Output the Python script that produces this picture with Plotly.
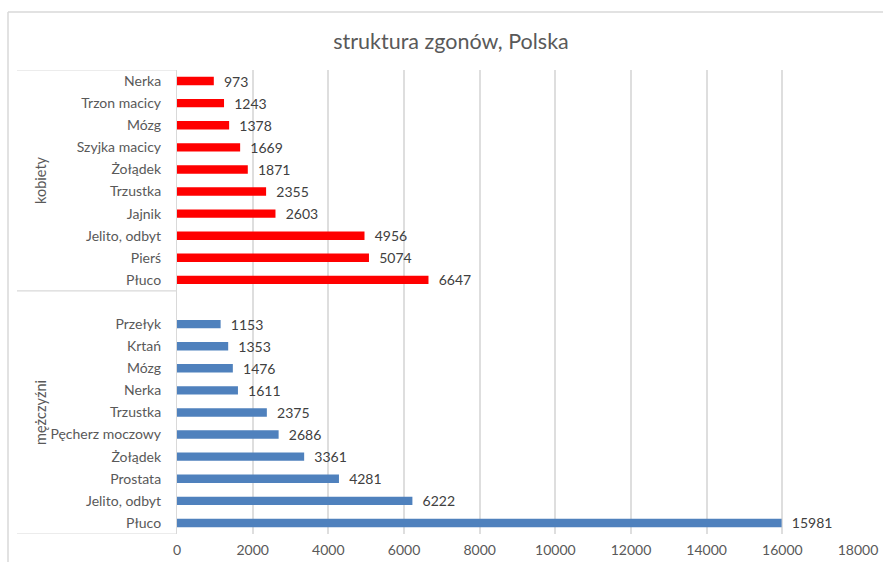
import plotly.graph_objects as go

women_labels = ["Nerka", "Trzon macicy", "Mózg", "Szyjka macicy", "Żołądek",
                "Trzustka", "Jajnik", "Jelito, odbyt", "Pierś", "Płuco"]
women_values = [973, 1243, 1378, 1669, 1871, 2355, 2603, 4956, 5074, 6647]

men_labels = ["Przełyk", "Krtań", "Mózg", "Nerka", "Trzustka", "Pęcherz moczowy",
              "Żołądek", "Prostata", "Jelito, odbyt", "Płuco"]
men_values = [1153, 1353, 1476, 1611, 2375, 2686, 3361, 4281, 6222, 15981]

group_names = ["kobiety", "mężczyźni"]
title_text = "struktura zgonów, Polska"

FONT = "Lato"
GRAY = "#595959"
LINE = "#d9d9d9"

# slot positions: women 0..9, blank slot 10, men 11..20
w_pos = list(range(len(women_labels)))
m_pos = [len(women_labels) + 1 + i for i in range(len(men_labels))]
n_slots = len(women_labels) + 1 + len(men_labels)

fig = go.Figure()
for pos, vals, col in [(w_pos, women_values, "#FF0000"), (m_pos, men_values, "#4F81BD")]:
    fig.add_trace(go.Bar(
        y=pos, x=vals, orientation="h", width=0.38,
        marker=dict(color=col, line=dict(width=0)),
        text=[str(v) for v in vals], texttemplate="  %{text}", textposition="outside",
        constraintext="none",
        textfont=dict(family=FONT, size=14, color="#404040"), cliponaxis=False,
        showlegend=False, hoverinfo="skip"))

L, R, T, B = 177, 25, 70, 28
PW = 883 - L - R
PH = 562 - T - B
def px_to_paper_x(px):
    return (px - L) / PW
def px_to_paper_y(py):
    return (562 - B - py) / PH

shapes = []
# outer chart border (top + left)
shapes.append(dict(type="line", xref="paper", yref="paper",
                   x0=px_to_paper_x(8), x1=px_to_paper_x(900),
                   y0=px_to_paper_y(12), y1=px_to_paper_y(12),
                   line=dict(color=LINE, width=1.5)))
shapes.append(dict(type="line", xref="paper", yref="paper",
                   x0=px_to_paper_x(8), x1=px_to_paper_x(8),
                   y0=px_to_paper_y(12), y1=px_to_paper_y(600),
                   line=dict(color=LINE, width=1.5)))
# group boundaries in label area
for yb in [-0.5, len(women_labels) - 0.5, n_slots - 0.5]:
    shapes.append(dict(type="line", xref="paper", yref="y",
                       x0=px_to_paper_x(17), x1=0, y0=yb, y1=yb,
                       line=dict(color=LINE, width=1.2)))

annotations = [
    dict(text=group_names[0], xref="paper", yref="y", x=px_to_paper_x(30),
         y=(len(women_labels) - 1) / 2, textangle=-90, showarrow=False,
         font=dict(family=FONT, size=14.5, color=GRAY)),
    dict(text=group_names[1], xref="paper", yref="y", x=px_to_paper_x(30),
         y=(len(women_labels) + n_slots - 1) / 2, textangle=-90, showarrow=False,
         font=dict(family=FONT, size=14.5, color=GRAY)),
]

fig.update_layout(
    width=883, height=562,
    margin=dict(l=L, r=R, t=T, b=B, autoexpand=False),
    paper_bgcolor="white", plot_bgcolor="white",
    title=dict(text=title_text, x=451 / 883, xanchor="center", xref="container",
               y=1 - 41 / 562, yanchor="middle", yref="container",
               font=dict(family=FONT, size=21.5, color=GRAY)),
    shapes=shapes, annotations=annotations,
    font=dict(family=FONT, color=GRAY, size=14),
)
fig.update_xaxes(range=[0, 18000], dtick=2000, tickformat="d", showgrid=True,
                 gridcolor="#dedede", gridwidth=1.5, zeroline=False, showline=False,
                 tickfont=dict(family=FONT, size=14, color=GRAY), ticks="",
                 ticklabelstandoff=6,
                 automargin=False, fixedrange=True)
fig.update_yaxes(range=[n_slots - 0.5, -0.5], tickvals=w_pos + m_pos,
                 ticktext=women_labels + men_labels, showgrid=False,
                 zeroline=False, showline=True, linecolor=LINE, linewidth=1.2,
                 ticks="", ticklabelstandoff=12, automargin=False,
                 tickfont=dict(family=FONT, size=14, color=GRAY), fixedrange=True)

fig.write_html("out.html", config={"displayModeBar": False},
               post_script="document.body.style.margin='0';document.body.style.overflow='hidden';")
